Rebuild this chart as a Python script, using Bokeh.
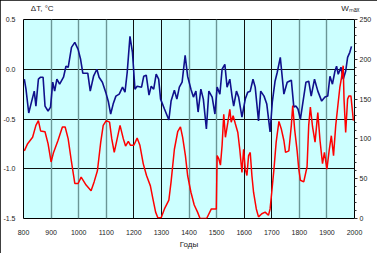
from bokeh.plotting import figure
from bokeh.models import Range1d, LinearAxis, FixedTicker, NumeralTickFormatter, Grid
from bokeh.embed import file_html
from bokeh.resources import INLINE

# ---- data ----
t_years = [803, 809, 819, 827, 839, 845, 854, 862, 871, 878, 889, 898, 906, 913, 921, 931, 945, 954, 962, 974,
           986, 998, 1007, 1015, 1033, 1042, 1054, 1066, 1074, 1086, 1098, 1108, 1116, 1125, 1135, 1147, 1159, 1168,
           1176, 1186, 1195, 1204, 1212, 1228, 1236, 1245, 1255, 1263, 1272, 1281, 1290, 1297, 1311, 1327, 1335,
           1347, 1356, 1365, 1375, 1386, 1395, 1407, 1416, 1425, 1433, 1443, 1452, 1463, 1472, 1484, 1494, 1502,
           1512, 1520, 1530, 1538, 1548, 1556, 1562, 1572, 1580, 1592, 1604, 1613, 1622, 1632, 1640, 1652, 1660,
           1672, 1682, 1694, 1702, 1712, 1720, 1731, 1744, 1756, 1771, 1780, 1788, 1795, 1804, 1812, 1824, 1834,
           1843, 1855, 1867, 1881, 1893, 1903, 1911, 1920, 1929, 1935, 1941, 1951, 1959, 1968, 1975, 1983, 1989]
t_values = [-0.10, -0.20, -0.44, -0.35, -0.22, -0.37, -0.10, -0.08, -0.08, -0.37, -0.42, -0.38, -0.13, -0.22, -0.10,
            -0.15, -0.08, 0.03, 0.02, 0.22, 0.27, 0.20, 0.10, -0.04, -0.04, -0.22, -0.07, 0.00, -0.08, -0.13, -0.23,
            -0.33, -0.45, -0.35, -0.27, -0.25, -0.18, -0.23, -0.03, 0.33, 0.17, -0.20, -0.17, -0.18, -0.07, -0.06,
            -0.26, -0.17, -0.20, -0.05, -0.10, -0.30, -0.40, -0.51, -0.32, -0.21, -0.30, -0.18, -0.13, 0.14, -0.07,
            -0.20, -0.28, -0.22, -0.43, -0.20, -0.30, -0.60, -0.22, -0.28, -0.45, -0.18, -0.25, 0.00, 0.05, -0.18,
            -0.10, -0.27, -0.37, -0.22, -0.28, -0.48, -0.30, -0.23, -0.22, -0.10, -0.18, -0.52, -0.22, -0.27, -0.35,
            -0.63, -0.33, -0.12, -0.03, 0.12, -0.25, -0.13, -0.11, -0.38, -0.37, -0.40, -0.50, -0.35, -0.13, -0.12,
            -0.27, -0.10, -0.22, -0.32, -0.28, -0.27, -0.07, -0.15, -0.02, 0.03, -0.05, 0.02, -0.10, -0.02, 0.12,
            0.17, 0.23]

w_years = [803, 815, 833, 845, 854, 862, 878, 889, 900, 909, 925, 941, 951, 962, 974, 986, 998, 1009, 1027, 1045,
           1056, 1068, 1080, 1089, 1100, 1112, 1120, 1129, 1150, 1162, 1170, 1180, 1188, 1200, 1212, 1222, 1234,
           1246, 1260, 1269, 1279, 1287, 1299, 1311, 1327, 1335, 1347, 1359, 1369, 1377, 1387, 1395, 1407, 1419,
           1431, 1440, 1464, 1481, 1499, 1502, 1508, 1514, 1520, 1526, 1532, 1541, 1548, 1553, 1560, 1568, 1577,
           1584, 1592, 1598, 1604, 1610, 1616, 1622, 1628, 1634, 1644, 1652, 1664, 1676, 1688, 1694, 1700, 1708,
           1716, 1726, 1735, 1744, 1750, 1762, 1771, 1776, 1783, 1792, 1798, 1804, 1816, 1828, 1834, 1840, 1848,
           1857, 1867, 1875, 1884, 1891, 1900, 1908, 1916, 1924, 1932, 1941, 1947, 1953, 1959, 1962, 1968, 1975,
           1980, 1987, 1996]
w_values = [85, 94, 102, 117, 123, 110, 109, 94, 71, 83, 98, 115, 115, 100, 71, 44, 44, 52, 42, 35,
            46, 60, 96, 117, 123, 121, 100, 83, 117, 100, 91, 97, 92, 92, 101, 92, 69,
            54, 41, 25, 8, 1, 1, 12, 23, 46, 87, 109, 115, 102, 79, 54, 33, 17,
            8, 0, 0, 12, 12, 79, 75, 67, 92, 131, 102, 121, 137, 121, 129, 119, 108,
            87, 58, 87, 62, 54, 79, 83, 54, 33, 12, 2, 6, 8, 4, 12, 33, 62,
            96, 122, 112, 98, 83, 85, 117, 142, 112, 85, 62, 48, 46, 65, 117, 140, 115,
            96, 133, 98, 69, 83, 62, 85, 104, 79, 117, 146, 165, 177, 192, 150, 108, 150,
            154, 154, 123]

x_ticks = list(range(800, 2001, 100))
dark_grid_years = [1200, 1300, 1600, 1700]
gray_grid_years = [900, 1000, 1100, 1400, 1500, 1800, 1900]
t_ticks = [-1.5, -1.0, -0.5, 0.0, 0.5]
t_grid = [-1.0, -0.5, 0.0]
w_ticks = [0, 50, 100, 150, 200, 250]
w_minor = list(range(0, 251, 10))
# axis titles shown above the frame (placed at the years they sit over)
title_ticks = [868, 1985]
title_texts = ["ΔT, °C", "Wₘₐₓ"]

FONT = "Liberation Sans"
TXT = "#222222"

p = figure(width=377, height=253, x_range=Range1d(800, 2000), y_range=Range1d(-1.5, 0.5),
           output_backend="svg", toolbar_location=None,
           background_fill_color="#ccffff", border_fill_color="white",
           min_border_left=21, min_border_right=23, min_border_top=17, min_border_bottom=35)
p.styles = {"outline": "1px solid black", "outline-offset": "-1px"}
p.outline_line_color = "black"
p.outline_line_width = 1
p.extra_y_ranges = {"w": Range1d(0, 250)}

# grids
p.xgrid.visible = False
p.ygrid.ticker = FixedTicker(ticks=t_grid)
p.ygrid.grid_line_color = "#111111"
p.ygrid.grid_line_width = 1
p.add_layout(Grid(dimension=0, ticker=FixedTicker(ticks=gray_grid_years), grid_line_color="#6a9696", grid_line_width=1.4))
p.add_layout(Grid(dimension=0, ticker=FixedTicker(ticks=dark_grid_years), grid_line_color="#111111", grid_line_width=1))

# bottom axis
xa = p.xaxis[0]
xa.ticker = FixedTicker(ticks=x_ticks)
xa.axis_line_color = None
xa.major_tick_line_color = None
xa.minor_tick_line_color = None
xa.major_label_text_font = FONT
xa.major_label_text_font_size = "7px"
xa.major_label_text_color = TXT
xa.major_label_standoff = 5
xa.axis_label = "Годы"
xa.axis_label_text_font = FONT
xa.axis_label_text_font_size = "8px"
xa.axis_label_text_font_style = "normal"
xa.axis_label_text_color = TXT
xa.axis_label_standoff = 2

# left axis
ya = p.yaxis[0]
ya.ticker = FixedTicker(ticks=t_ticks)
ya.formatter = NumeralTickFormatter(format="0.0")
ya.axis_line_color = None
ya.major_tick_line_color = None
ya.minor_tick_line_color = None
ya.major_label_text_font = FONT
ya.major_label_text_font_size = "7px"
ya.major_label_text_color = TXT
ya.major_label_standoff = 2

# right axis
ra = LinearAxis(y_range_name="w", ticker=FixedTicker(ticks=w_ticks, minor_ticks=w_minor))
ra.axis_line_color = None
ra.major_tick_in = 0
ra.major_tick_out = 3
ra.minor_tick_in = 0
ra.minor_tick_out = 2
ra.major_tick_line_color = "#333333"
ra.minor_tick_line_color = "#333333"
ra.major_label_text_font = FONT
ra.major_label_text_font_size = "7px"
ra.major_label_text_color = TXT
ra.major_label_standoff = 2
p.add_layout(ra, "right")

# top "axis" carrying the two axis titles
ta = LinearAxis(ticker=FixedTicker(ticks=title_ticks),
                major_label_overrides=dict(zip(title_ticks, title_texts)))
ta.axis_line_color = None
ta.major_tick_line_color = None
ta.minor_tick_line_color = None
ta.major_label_text_font = FONT
ta.major_label_text_font_size = "8px"
ta.major_label_text_color = TXT
ta.major_label_standoff = 1
p.add_layout(ta, "above")

# series
p.line(t_years, t_values, line_color="#10108c", line_width=1.6)
p.line(w_years, w_values, y_range_name="w", line_color="#ff0000", line_width=1.5)

open("out.html", "w").write(file_html(p, INLINE))
